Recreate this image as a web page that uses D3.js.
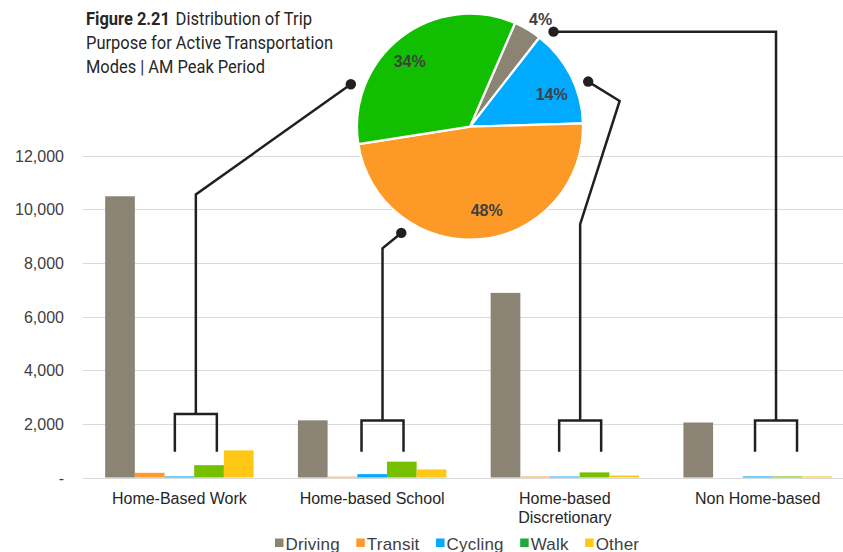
<!DOCTYPE html>
<html>
<head>
<meta charset="utf-8">
<script src="https://cdn.jsdelivr.net/npm/d3@7"></script>
<style>
  html, body { margin: 0; padding: 0; background: #fff; }
  svg { display: block; }
</style>
</head>
<body>
<svg id="chart" width="843" height="552"></svg>
<script>
// Trip counts by purpose and mode, AM peak period
const categories = ["Home-Based Work", "Home-based School", "Home-based Discretionary", "Non Home-based"];
const series = ["Driving", "Transit", "Cycling", "Walk", "Other"];
const driving = [10480, 2130, 6880, 2050];
const transit = [175, 30, 35, 0];
const cycling = [40, 125, 35, 40];
const walk = [460, 590, 190, 40];
const other = [1010, 300, 75, 40];
const yTicks = [0, 2000, 4000, 6000, 8000, 10000, 12000];

// Share of active-transportation trips by purpose (pie)
const pieCategories = ["Non Home-based", "Home-based Discretionary", "Home-based School", "Home-Based Work"];
const pieShares = [4, 14, 48, 34];

const seriesValues = [driving, transit, cycling, walk, other];
const barColors = ["#8b8373", "#fd9a2b", "#00aaff", "#77c000", "#ffc814"];
const legendColors = ["#8b8373", "#fd9a2b", "#00aaff", "#1fa83c", "#ffc814"];
const pieColors = {
  "Non Home-based": "#8b8373",
  "Home-based Discretionary": "#00aaff",
  "Home-based School": "#fd9a27",
  "Home-Based Work": "#12bf00"
};

const svg = d3.select("#chart");
const axisFont = "'Liberation Sans', Arial, sans-serif";

// Scales
const x0 = d3.scaleBand().domain(categories).range([83, 854])
  .paddingInner(0.23).paddingOuter(0.115);
const x1 = d3.scaleBand().domain(series).range([0, x0.bandwidth()]);
const y = d3.scaleLinear().domain([0, 12000]).range([477.5, 155.5]);

// Gridlines
svg.append("g").selectAll("line").data(yTicks).join("line")
  .attr("x1", 83).attr("x2", 843)
  .attr("y1", d => Math.round(y(d)) + 0.5).attr("y2", d => Math.round(y(d)) + 0.5)
  .attr("stroke", "#d9d9d9").attr("stroke-width", 1);

// Y axis labels
const yAxis = d3.axisLeft(y).tickValues(yTicks).tickSize(0).tickPadding(0)
  .tickFormat(d => d === 0 ? "-" : d3.format(",")(d));
const gy = svg.append("g").attr("transform", "translate(64,0)").call(yAxis);
gy.select(".domain").remove();
gy.selectAll("text")
  .attr("font-family", axisFont).attr("font-size", 16).attr("fill", "#404040")
  .attr("dy", "0.36em");

// Bars
const rows = categories.map((c, i) => ({ cat: c, vals: series.map((s, j) => ({ s, j, v: seriesValues[j][i] })) }));
const groups = svg.append("g").selectAll("g").data(rows).join("g")
  .attr("transform", d => `translate(${x0(d.cat)},0)`);
groups.selectAll("rect").data(d => d.vals).join("rect")
  .attr("x", d => x1(d.s))
  .attr("width", x1.bandwidth())
  .attr("y", d => y(d.v))
  .attr("height", d => y(0) - y(d.v))
  .attr("fill", d => barColors[d.j]);

// Category labels (wrapped when too long)
const catG = svg.append("g");
categories.forEach(c => {
  const cx = x0(c) + x0.bandwidth() / 2;
  const t = catG.append("text").attr("x", cx).attr("y", 504)
    .attr("text-anchor", "middle").attr("font-family", axisFont)
    .attr("font-size", 16).attr("fill", "#262626").text(c);
  if (t.node().getComputedTextLength() > 165) {
    const words = c.split(" ");
    t.text(null);
    words.forEach((w, k) => {
      t.append("tspan").attr("x", cx).attr("dy", k === 0 ? 0 : 19).text(w);
    });
  }
});

// Legend
const legend = svg.append("g");
let lx = 275;
series.forEach((s, j) => {
  legend.append("rect").attr("x", lx).attr("y", 538.5).attr("width", 8.5).attr("height", 8.5)
    .attr("fill", legendColors[j]);
  const t = legend.append("text").attr("x", lx + 10.5).attr("y", 549.5)
    .attr("font-family", axisFont).attr("font-size", 17).attr("fill", "#404040")
    .attr("letter-spacing", 0.2).text(s);
  lx += 10.5 + t.node().getComputedTextLength() + 16.5;
});

// Pie
const cx = 470, cy = 126.7, R = 113;
const deg = Math.PI / 180;
const pieData = pieCategories.map((c, i) => ({ c, v: pieShares[i] }));
const pie = d3.pie().value(d => d.v).sort(null)
  .startAngle(23.5 * deg).endAngle(383.5 * deg);
const arcs = pie(pieData);
const arc = d3.arc().innerRadius(0).outerRadius(R);
const pieG = svg.append("g").attr("transform", `translate(${cx},${cy})`);
pieG.selectAll("path").data(arcs).join("path")
  .attr("d", arc)
  .attr("fill", d => pieColors[d.data.c])
  .attr("stroke", "#fff").attr("stroke-width", 2.2).attr("stroke-linejoin", "round");

// Pie labels: angle nudge and radius per slice
const labelNudge = { "Non Home-based": [2.5, 129], "Home-based Discretionary": [5, 88], "Home-based School": [-6, 85], "Home-Based Work": [-5, 89] };
pieG.selectAll("text").data(arcs).join("text")
  .each(function (d) {
    const [da, r] = labelNudge[d.data.c];
    const a = (d.startAngle + d.endAngle) / 2 + da * deg;
    d3.select(this).attr("x", Math.sin(a) * r).attr("y", -Math.cos(a) * r);
  })
  .attr("text-anchor", "middle").attr("dy", "0.36em")
  .attr("font-family", axisFont).attr("font-weight", 700).attr("font-size", 16)
  .attr("fill", "#404040")
  .text(d => d.data.v + "%");

// Connectors from each bar group to its pie slice
const connectors = [
  { cat: "Home-Based Work", at: 0.611, top: 2370, bend: [[0, 10550]], dotAngle: 289.6 },
  { cat: "Home-based School", at: 0.570, top: 2120, bend: [[0, 8540]], dotAngle: 212.9 },
  { cat: "Home-based Discretionary", at: 0.603, top: 2120, bend: [[0, 9440], [39.5, null, 101]], dotAngle: 69.1 },
  { cat: "Non Home-based", at: 0.624, top: 2120, bend: [[0, null, "dot"]], dotAngle: 41.3 }
];
const legBottom = 960, halfW = 21, dotR = 126.5;
const connG = svg.append("g").attr("fill", "none").attr("stroke", "#231f20")
  .attr("stroke-width", 2.5).attr("stroke-linejoin", "miter");
connectors.forEach(k => {
  const bx = x0(k.cat) + k.at * x0.bandwidth();
  const yt = y(k.top), yb = y(legBottom);
  const a = k.dotAngle * deg;
  const dx = cx + Math.sin(a) * dotR, dy = cy - Math.cos(a) * dotR;
  // bracket
  connG.append("path").attr("d", `M${bx - halfW},${yb} V${yt} H${bx + halfW} V${yb}`);
  // stem and leader
  const pts = [[bx, yt]];
  k.bend.forEach(b => {
    const px = bx + b[0];
    const py = b[1] != null ? y(b[1]) : (b[2] === "dot" ? dy : b[2]);
    pts.push([px, py]);
  });
  pts.push([dx, dy]);
  connG.append("path").attr("d", d3.line()(pts));
  svg.append("circle").attr("cx", dx).attr("cy", dy).attr("r", 5.2).attr("fill", "#231f20");
});

// Title: each run gets its own fitted width
const titleFont = "Roboto, 'Noto Sans', sans-serif";
const titleRuns = [
  { text: "Figure 2.21", bold: true, x: 86, w: 84, y: 24.5 },
  { text: "Distribution of Trip", bold: false, x: 175.5, w: 136.5, y: 24.5 },
  { text: "Purpose for Active Transportation", bold: false, x: 86, w: 247, y: 48.5 },
  { text: "Modes | AM Peak Period", bold: false, x: 86, w: 179, y: 72.8 }
];
titleRuns.forEach(r => {
  svg.append("text").attr("x", r.x).attr("y", r.y)
    .attr("font-family", titleFont).attr("font-size", 18.5).attr("fill", "#262626")
    .attr("font-weight", r.bold ? 700 : 400)
    .attr("textLength", r.w).attr("lengthAdjust", "spacingAndGlyphs")
    .text(r.text);
});
</script>
</body>
</html>
